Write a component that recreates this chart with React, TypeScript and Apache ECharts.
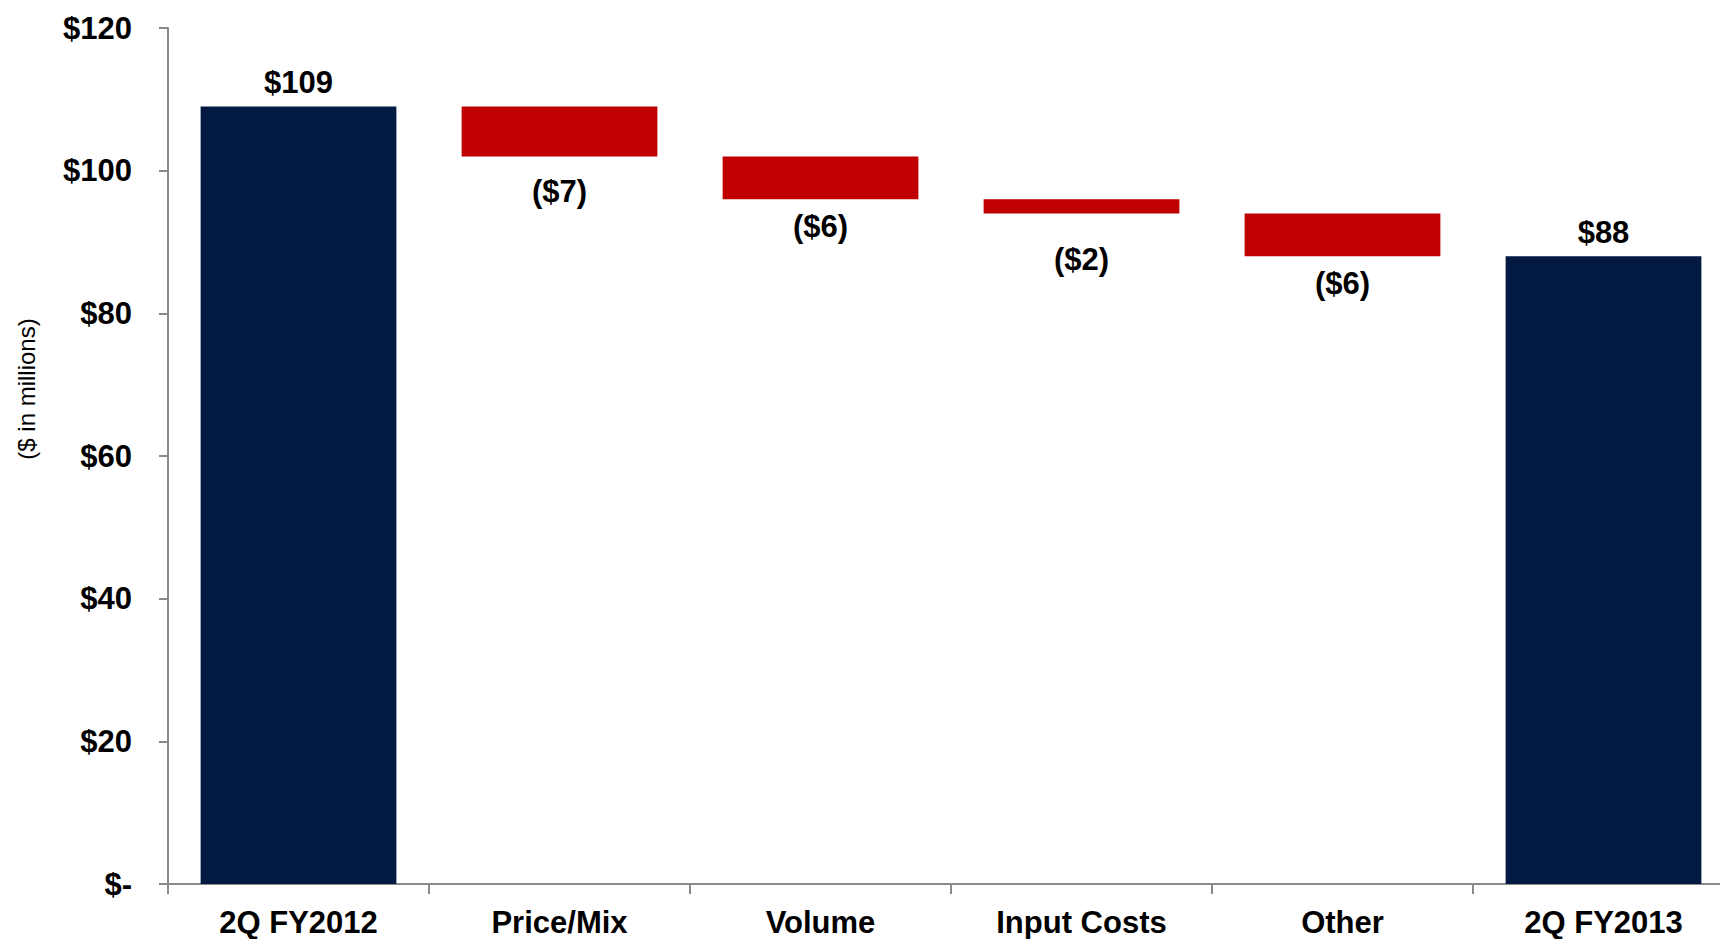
import React, { useEffect, useRef } from "react";
import * as echarts from "echarts";

const categories = ["2Q FY2012", "Price/Mix", "Volume", "Input Costs", "Other", "2Q FY2013"];
const startValue = 109;
const deltas = [-7, -6, -2, -6];
const endValue = 88;
const yTicks = { min: 0, max: 120, interval: 20 };
const belowLabelGap = [20, 12, 31, 12];

const NAVY = "#021942";
const RED = "#C00000";
const FONT = "'Liberation Sans', Arial, sans-serif";

export default function App() {
  const ref = useRef<HTMLDivElement>(null);
  useEffect(() => {
    if (!ref.current) return;
    const chart = echarts.init(ref.current, undefined, { renderer: "svg" });

    const base: (number | string)[] = [0];
    const totals: (number | string)[] = [startValue];
    const drops: any[] = ["-"];
    let level = startValue;
    deltas.forEach((d, i) => {
      const next = level + d;
      base.push(Math.min(level, next));
      totals.push("-");
      drops.push({
        value: Math.abs(d),
        label: { distance: belowLabelGap[i] },
      });
      level = next;
    });
    base.push(0);
    totals.push(endValue);
    drops.push("-");

    const labelFont = { fontFamily: FONT, fontWeight: "bold" as const, fontSize: 31, color: "#000" };

    chart.setOption({
      animation: false,
      grid: { left: 168, top: 28, right: -14, height: 856, outerBoundsMode: "none", containLabel: false },
      xAxis: {
        type: "category",
        data: categories,
        axisLine: { lineStyle: { color: "#8a8a8a", width: 2 } },
        axisTick: { show: true, length: 10, lineStyle: { color: "#8a8a8a", width: 2 } },
        axisLabel: { ...labelFont, margin: 23, interval: 0 },
      },
      yAxis: {
        type: "value",
        min: yTicks.min,
        max: yTicks.max,
        interval: yTicks.interval,
        splitLine: { show: false },
        axisLine: { show: true, lineStyle: { color: "#8a8a8a", width: 2 } },
        axisTick: { show: true, length: 9, lineStyle: { color: "#8a8a8a", width: 2 } },
        axisLabel: {
          ...labelFont,
          margin: 36,
          formatter: (v: number) => (v === 0 ? "$-" : "$" + v),
        },
      },
      graphic: [
        {
          type: "text",
          x: 26,
          y: 389,
          rotation: Math.PI / 2,
          style: {
            text: "($ in millions)",
            fontFamily: FONT,
            fontSize: 24,
            fill: "#000",
            align: "center",
            verticalAlign: "middle",
          },
        },
      ],
      series: [
        {
          type: "bar",
          stack: "w",
          data: base,
          itemStyle: { color: "transparent" },
          silent: true,
          barCategoryGap: "25%",
        },
        {
          type: "bar",
          stack: "w",
          data: totals,
          itemStyle: { color: NAVY },
          barCategoryGap: "25%",
          label: {
            show: true,
            position: "top",
            distance: 8,
            ...labelFont,
            formatter: (p: any) => "$" + p.value,
          },
        },
        {
          type: "bar",
          stack: "w",
          data: drops,
          itemStyle: { color: RED },
          barCategoryGap: "25%",
          label: {
            show: true,
            position: "bottom",
            ...labelFont,
            formatter: (p: any) => "($" + p.value + ")",
          },
        },
      ],
    });
    return () => chart.dispose();
  }, []);
  return (
    <div
      ref={ref}
      style={{ position: "absolute", left: 0, top: 0, width: 1720, height: 939, background: "#fff" }}
    />
  );
}
